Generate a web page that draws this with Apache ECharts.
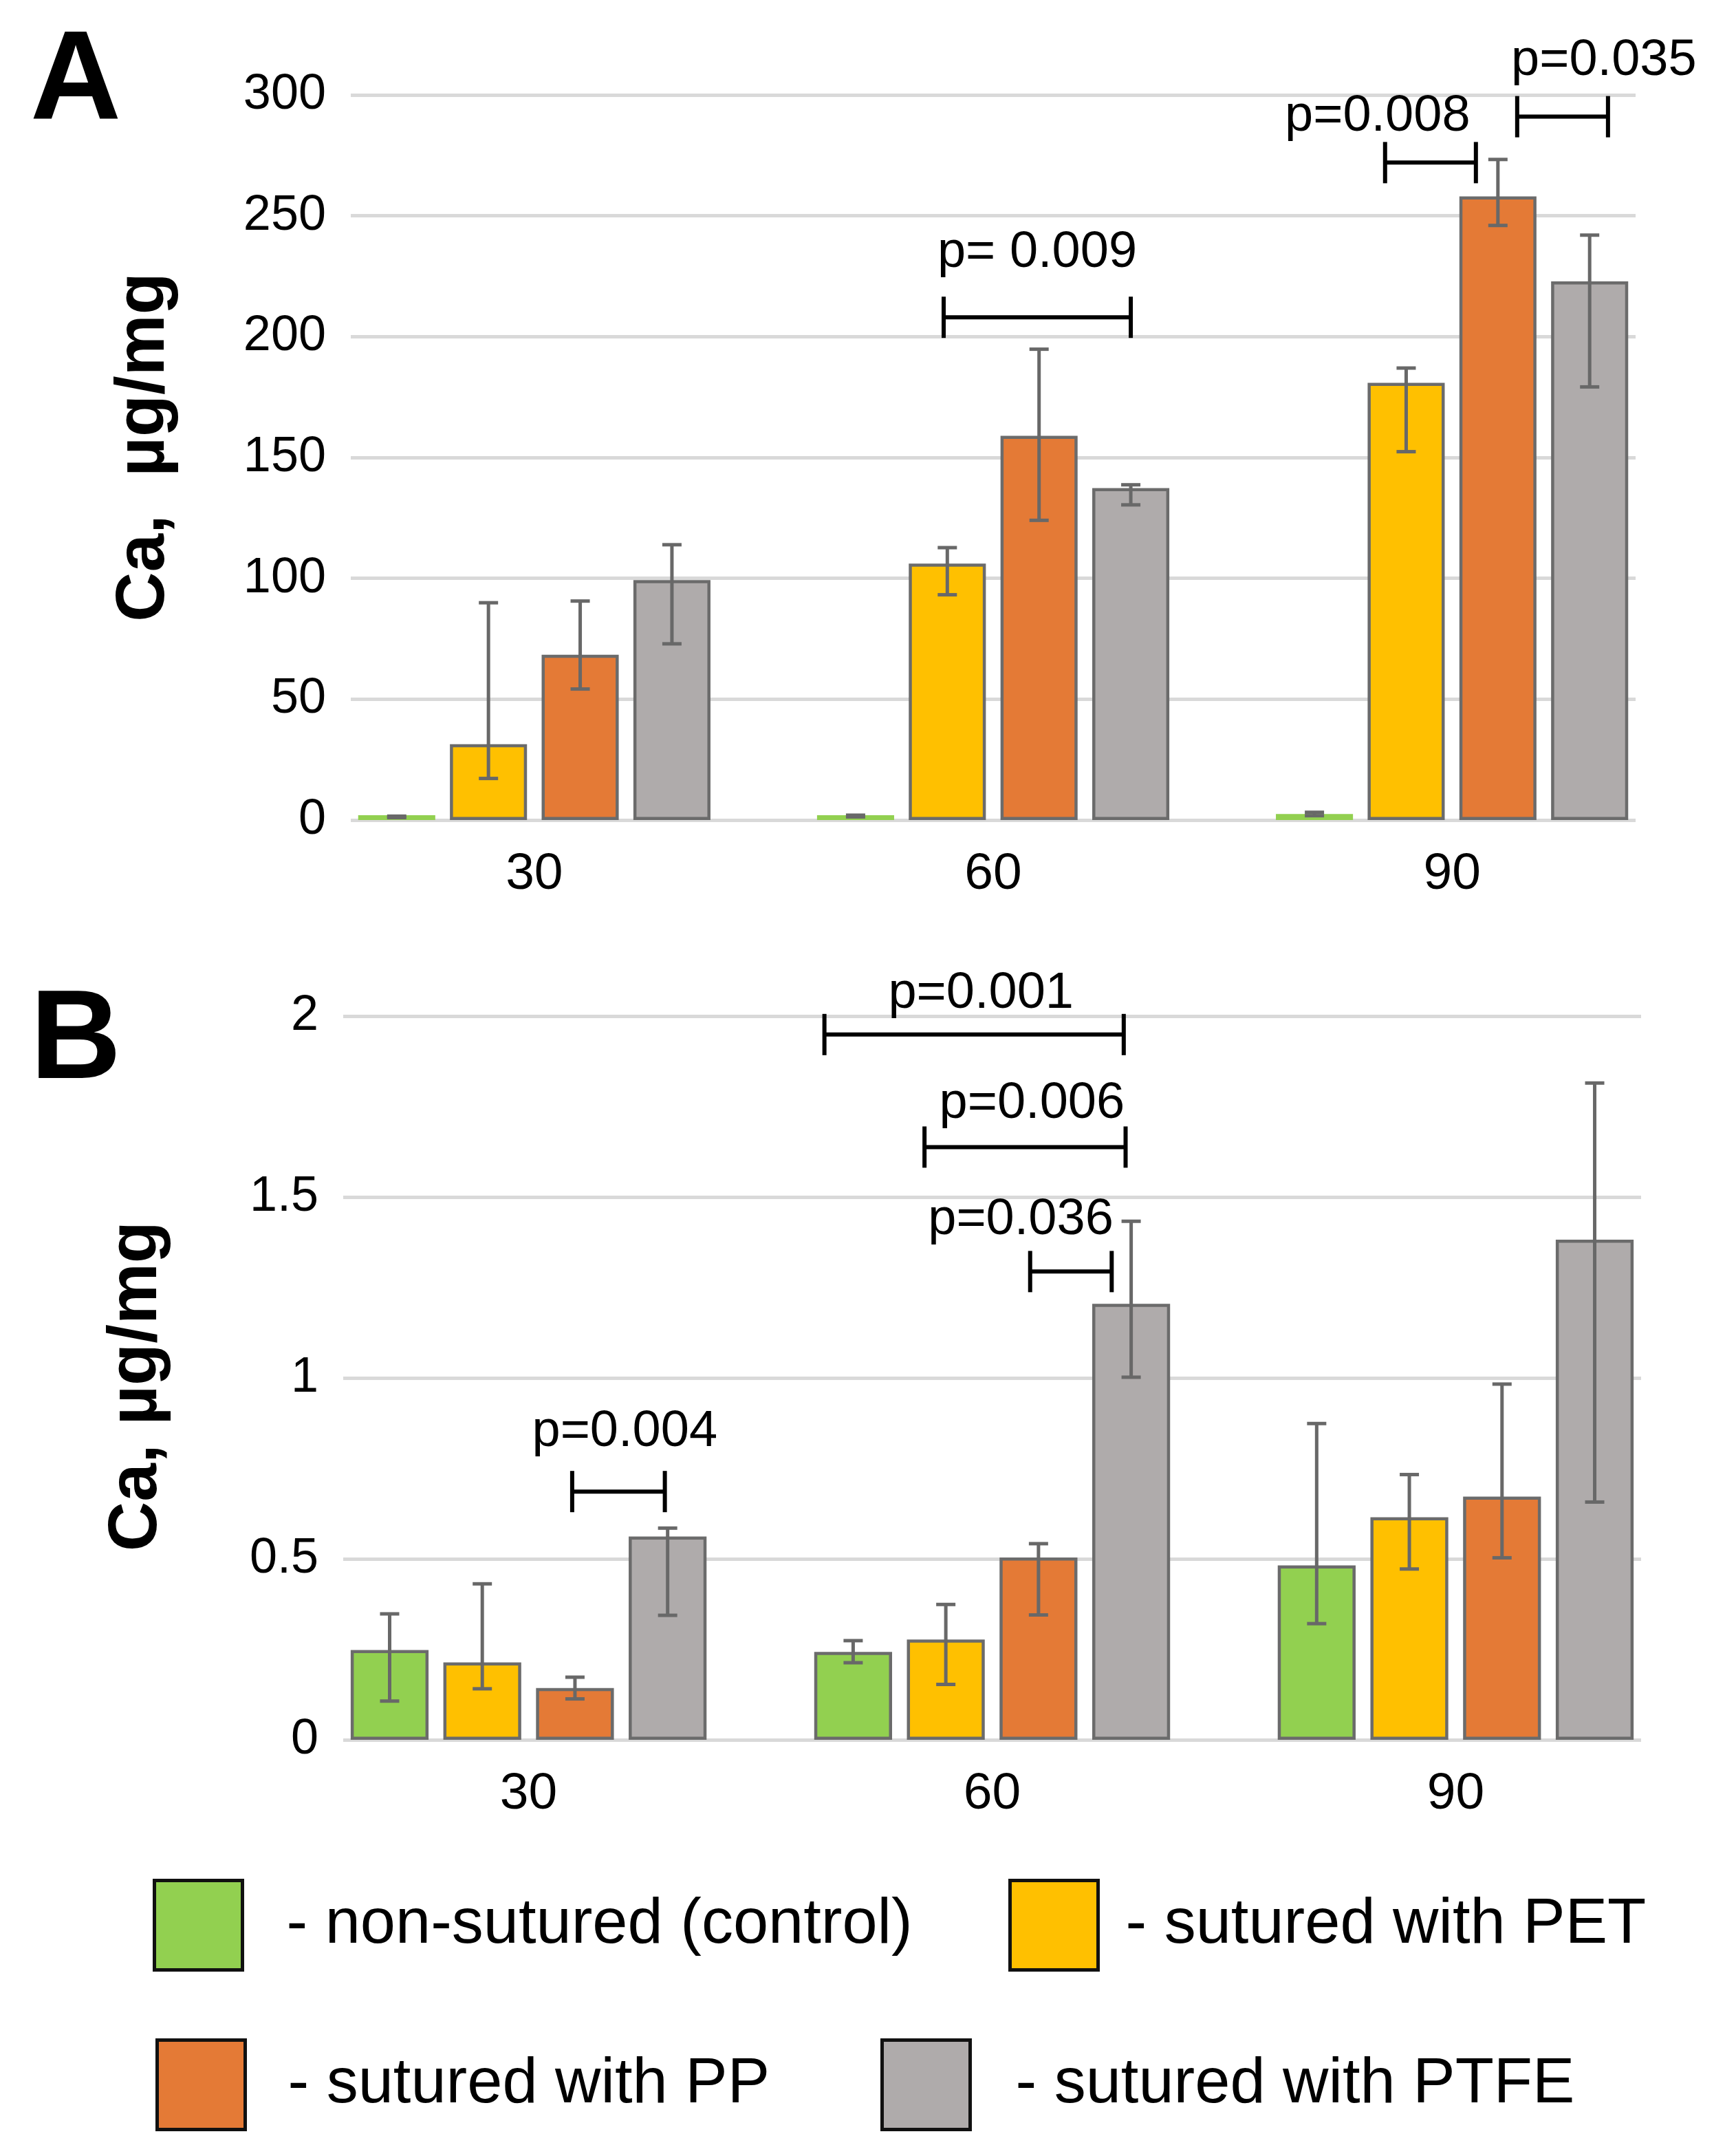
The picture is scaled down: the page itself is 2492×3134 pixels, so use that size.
<!DOCTYPE html>
<html lang="en">
<head>
<meta charset="UTF-8">
<title>Ca content after suturing</title>
<script src="https://cdn.jsdelivr.net/npm/echarts@6/dist/echarts.min.js"></script>
<style>html,body{margin:0;padding:0;background:#fff;}</style>
</head>
<body>
<div id="main" style="width:2492px;height:3134px;"></div>
<script>
// days after implantation
var days = [30, 60, 90];
var groupNames = ['non-sutured (control)', 'sutured with PET', 'sutured with PP', 'sutured with PTFE'];
var colors = ['#92d050', '#ffc000', '#e47a36', '#afabab'];

// panel A, Ca µg/mg: mean, lower and upper end of error bar
var controlA = [1.6, 1.9, 2.5];
var controlA_lo = [1.0, 1.3, 1.8];
var controlA_hi = [1.6, 2.0, 3.2];
var petA = [31.4, 106.1, 180.9];
var petA_lo = [17.2, 93.2, 152.4];
var petA_hi = [89.9, 112.7, 187.0];
var ppA = [68.4, 159.0, 258.0];
var ppA_lo = [54.2, 124.0, 246.0];
var ppA_hi = [90.6, 194.8, 273.3];
var ptfeA = [99.3, 137.3, 222.9];
var ptfeA_lo = [72.9, 130.4, 179.2];
var ptfeA_hi = [113.9, 138.7, 242.0];

// panel B
var controlB = [0.248, 0.243, 0.482];
var controlB_lo = [0.107, 0.213, 0.321];
var controlB_hi = [0.348, 0.274, 0.874];
var petB = [0.214, 0.277, 0.615];
var petB_lo = [0.141, 0.153, 0.472];
var petB_hi = [0.431, 0.374, 0.733];
var ppB = [0.143, 0.504, 0.672];
var ppB_lo = [0.113, 0.345, 0.503];
var ppB_hi = [0.173, 0.542, 0.983];
var ptfeB = [0.562, 1.205, 1.382];
var ptfeB_lo = [0.344, 1.002, 0.657];
var ptfeB_hi = [0.585, 1.433, 1.815];

// significance brackets: from/to are in bar steps from the day centre
var sigA = [
    {day: 60, y: 208, from: -0.54, to: 1.50, text: 'p= 0.009', dx: 0, dy: -94},
    {day: 90, y: 272, from: -0.73, to: 0.26, text: 'p=0.008', dx: -77, dy: -67},
    {day: 90, y: 291, from: 0.71, to: 1.70, text: 'p=0.035', dx: 60, dy: -81}
];
var sigB = [
    {day: 30, y: 0.686, from: 0.47, to: 1.47, text: 'p=0.004', dx: 9, dy: -87},
    {day: 60, y: 1.949, from: -1.81, to: 1.42, text: 'p=0.001', dx: 10, dy: -59},
    {day: 60, y: 1.638, from: -0.73, to: 1.44, text: 'p=0.006', dx: 10, dy: -63},
    {day: 60, y: 1.294, from: 0.41, to: 1.29, text: 'p=0.036', dx: -73, dy: -75}
];

var FONT = '"Liberation Sans", Arial, Helvetica, sans-serif';
var BAR_W = 0.168;   // share of the 30-day band
var BAR_GAP = 0.19;  // share of the bar width

var meansA = [controlA, petA, ppA, ptfeA];
var losA = [controlA_lo, petA_lo, ppA_lo, ptfeA_lo];
var hisA = [controlA_hi, petA_hi, ppA_hi, ptfeA_hi];
var meansB = [controlB, petB, ppB, ptfeB];
var losB = [controlB_lo, petB_lo, ppB_lo, ptfeB_lo];
var hisB = [controlB_hi, petB_hi, ppB_hi, ptfeB_hi];

function barStep(api) {
    var band = api.size([30, 0])[0];
    return band * BAR_W * (1 + BAR_GAP);
}

function errorItem(params, api) {
    var day = api.value(0), g = api.value(1);
    var x = api.coord([day, 0])[0] + (g - 1.5) * barStep(api);
    var yt = api.coord([day, api.value(3)])[1];
    var yb = api.coord([day, api.value(2)])[1];
    var c = 14;
    var st = {stroke: '#686868', lineWidth: 5};
    return {type: 'group', children: [
        {type: 'line', shape: {x1: x, y1: yt, x2: x, y2: yb}, style: st},
        {type: 'line', shape: {x1: x - c, y1: yt, x2: x + c, y2: yt}, style: st},
        {type: 'line', shape: {x1: x - c, y1: yb, x2: x + c, y2: yb}, style: st}
    ]};
}

function sigRenderer(list) {
    return function (params, api) {
        var s = list[params.dataIndex];
        var step = barStep(api);
        var p = api.coord([s.day, s.y]);
        var x1 = p[0] + s.from * step, x2 = p[0] + s.to * step, y = p[1];
        var st = {stroke: '#000', lineWidth: 6};
        return {type: 'group', children: [
            {type: 'line', shape: {x1: x1, y1: y, x2: x2, y2: y}, style: st},
            {type: 'line', shape: {x1: x1, y1: y - 30, x2: x1, y2: y + 30}, style: st},
            {type: 'line', shape: {x1: x2, y1: y - 30, x2: x2, y2: y + 30}, style: st},
            {type: 'text', style: {
                text: s.text, x: (x1 + x2) / 2 + s.dx, y: y + s.dy,
                fill: '#000', fontSize: 74, fontFamily: FONT,
                align: 'center', verticalAlign: 'middle'
            }}
        ]};
    };
}

// near-zero bars (control in A) read as a flat green strip, so no outline there
function panelSeries(idx, means, los, his, sig, flatFirst) {
    var out = [];
    var errData = [];
    for (var g = 0; g < 4; g++) {
        var noBorder = flatFirst && g === 0;
        out.push({
            name: groupNames[g],
            type: 'bar',
            xAxisIndex: idx,
            yAxisIndex: idx,
            barWidth: (BAR_W * 100) + '%',
            barGap: (BAR_GAP * 100) + '%',
            barMinHeight: noBorder ? 7 : 0,
            itemStyle: {color: colors[g], borderColor: '#6b6b6b', borderWidth: noBorder ? 0 : 4.5},
            data: days.map(function (d, i) { return [d, means[g][i]]; }),
            z: 2
        });
        for (var i = 0; i < days.length; i++) {
            errData.push([days[i], g, los[g][i], his[g][i]]);
        }
    }
    out.push({
        type: 'custom', xAxisIndex: idx, yAxisIndex: idx,
        renderItem: errorItem, encode: {x: 0, y: [2, 3]},
        data: errData, z: 5, silent: true
    });
    out.push({
        type: 'custom', xAxisIndex: idx, yAxisIndex: idx,
        renderItem: sigRenderer(sig), encode: {x: 0, y: 1},
        data: sig.map(function (s) { return [s.day, s.y]; }),
        z: 6, silent: true, clip: false
    });
    return out;
}

function xAxisFor(idx) {
    return {
        type: 'value', gridIndex: idx, min: 18, max: 102, interval: 6,
        axisLine: {show: false}, axisTick: {show: false}, splitLine: {show: false},
        axisLabel: {
            fontSize: 75, fontFamily: FONT, color: '#000', margin: 42,
            formatter: function (v) { return days.indexOf(v) >= 0 ? String(v) : ''; }
        }
    };
}

function yAxisFor(idx, max, interval, name, namePad) {
    return {
        type: 'value', gridIndex: idx, min: 0, max: max, interval: interval,
        name: name, nameLocation: 'middle', nameGap: 250, nameRotate: 90,
        nameTextStyle: {fontSize: 100, fontWeight: 'bold', fontFamily: FONT, color: '#000', padding: namePad},
        axisLine: {show: false}, axisTick: {show: false},
        axisLabel: {fontSize: 72, fontFamily: FONT, color: '#000', margin: 36},
        splitLine: {lineStyle: {color: '#d9d9d9', width: 5}}
    };
}

var legLeft = [222, 1466, 226, 1280];
var legTop = [2731, 2731, 2963, 2963];
var legTextGap = [59, 35, 57, 61];

var option = {
    backgroundColor: '#fff',
    animation: false,
    grid: [
        {left: 510, right: 114, top: 138, height: 1054},
        {left: 499, right: 106, top: 1477, height: 1052}
    ],
    xAxis: [xAxisFor(0), xAxisFor(1)],
    yAxis: [
        yAxisFor(0, 300, 50, 'Ca,  µg/mg', [0, 0, 0, 30]),
        yAxisFor(1, 2, 0.5, 'Ca, µg/mg', [0, 24, 0, 0])
    ],
    legend: groupNames.map(function (n, i) {
        return {
            data: [n], left: legLeft[i], top: legTop[i], padding: 0,
            icon: 'rect', itemWidth: 128, itemHeight: 130, selectedMode: false,
            itemStyle: {borderColor: '#111', borderWidth: 5},
            formatter: '- {name}',
            textStyle: {fontSize: 92, fontFamily: FONT, color: '#000', padding: [0, 0, 0, legTextGap[i]]}
        };
    }),
    graphic: [
        {type: 'text', left: 44, top: 30, style: {text: 'A', fontSize: 183, fontWeight: 'bold', fontFamily: FONT, fill: '#000'}},
        {type: 'text', left: 44, top: 1425, style: {text: 'B', fontSize: 183, fontWeight: 'bold', fontFamily: FONT, fill: '#000'}}
    ],
    series: panelSeries(0, meansA, losA, hisA, sigA, true).concat(panelSeries(1, meansB, losB, hisB, sigB, false))
};

var myChart = echarts.init(document.getElementById('main'));
myChart.setOption(option);
</script>
</body>
</html>
